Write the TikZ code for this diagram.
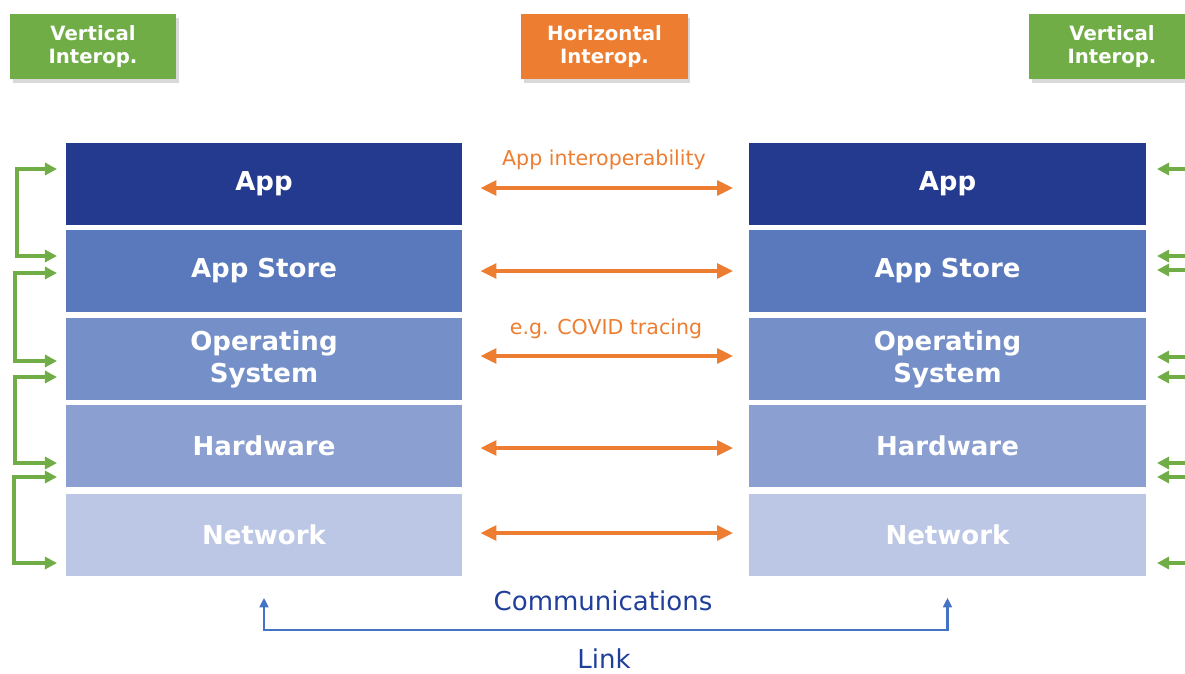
\documentclass[tikz,border=0pt]{standalone}
\usepackage{fontspec}
\setmainfont{DejaVu Sans}
\usetikzlibrary{arrows.meta,shadows}
\definecolor{appc}{HTML}{233A8E}
\definecolor{storec}{HTML}{5A79BD}
\definecolor{osc}{HTML}{7590C8}
\definecolor{hwc}{HTML}{8B9FD1}
\definecolor{netc}{HTML}{BCC7E6}
\definecolor{vgreen}{HTML}{70AD47}
\definecolor{horange}{HTML}{ED7D31}
\definecolor{linkblue}{HTML}{4472C4}
\definecolor{textblue}{HTML}{203F9A}
\tikzset{
  layer/.style={minimum width=9.9cm,minimum height=2.05cm,inner sep=0pt,text=white,
    align=center,font=\bfseries\fontsize{18.5}{22.7}\selectfont},
  tag/.style={minimum width=4.15cm,minimum height=1.625cm,inner sep=0pt,text=white,align=center,
    font=\bfseries\fontsize{14}{16.3}\selectfont,
    drop shadow={shadow xshift=0.07cm,shadow yshift=-0.09cm,opacity=0.3}},
  horiz/.style={draw=horange,line width=2.8pt,{Triangle[length=0.4cm,width=0.36cm]}-{Triangle[length=0.4cm,width=0.36cm]}},
  vert/.style={draw=vgreen,line width=2.2pt,{Triangle[length=0.3cm,width=0.3cm]}-{Triangle[length=0.3cm,width=0.3cm]}},
  vin/.style={draw=vgreen,line width=2.2pt,-{Triangle[length=0.3cm,width=0.3cm]}},
  link/.style={draw=linkblue,line width=1.8pt,{Triangle[length=0.24cm,width=0.22cm]}-{Triangle[length=0.24cm,width=0.22cm]}},
  note/.style={text=horange,font=\fontsize{14.6}{16}\selectfont},
  comm/.style={text=textblue,font=\fontsize{18.5}{20}\selectfont}
}
\begin{document}
\begin{tikzpicture}[x=0.025cm,y=-0.025cm]
  \useasboundingbox (0,0) rectangle (1185,673);
  \clip (0,0) rectangle (1185,673);
  % interoperability tags
  \node[tag,fill=vgreen] (vleft) at (93,46.5) {Vertical\\Interop.};
  \node[tag,fill=horange] (horiz) at (604.5,46.5) {Horizontal\\Interop.};
  \node[tag,fill=vgreen] (vright) at (1112,46.5) {Vertical\\Interop.};
  % two layer stacks
  \foreach \name/\txt/\col/\y in {app/App/appc/184, store/App Store/storec/271,
      os/{Operating\\System}/osc/359, hw/Hardware/hwc/446, net/Network/netc/534.5} {
    \node[layer,fill=\col] (L\name) at (264,\y) {\txt};
    \node[layer,fill=\col] (R\name) at (947.5,\y) {\txt};
  }
  % horizontal links between the stacks
  \foreach \name/\dy in {app/4, store/0, os/-3, hw/2, net/-1.5}
    \draw[horiz,shorten <=0.45cm,shorten >=0.4cm] ([yshift=-\dy*0.025cm]Lapp.east |- L\name.east)
      -- ([yshift=-\dy*0.025cm]Rapp.west |- R\name.west);
  \node[note] (appnote) at (604,160) {App interoperability};
  \node[note] (covid) at (606,329) {e.g. COVID tracing};
  % vertical brackets, left side
  \foreach \a/\b/\x in {169/256/17, 273/361/15, 377/463/15, 477/563/14}
    \draw[vert] (57,\a) -- (\x,\a) -- (\x,\b) -- (57,\b);
  % vertical brackets, right side (cut off)
  \foreach \y in {169,256,270,357,377,463,477,563}
    \draw[vin] (1195,\y) -- (1157,\y);
  % communications link
  \draw[link] ([yshift=-0.55cm]Lnet.south) -- ([yshift=-1.35cm]Lnet.south)
    -- ([yshift=-1.35cm]Rnet.south) -- ([yshift=-0.55cm]Rnet.south);
  \node[comm] (comm) at (603,601) {Communications};
  \node[comm] (lnk) at (604,659) {Link};
\end{tikzpicture}
\end{document}
